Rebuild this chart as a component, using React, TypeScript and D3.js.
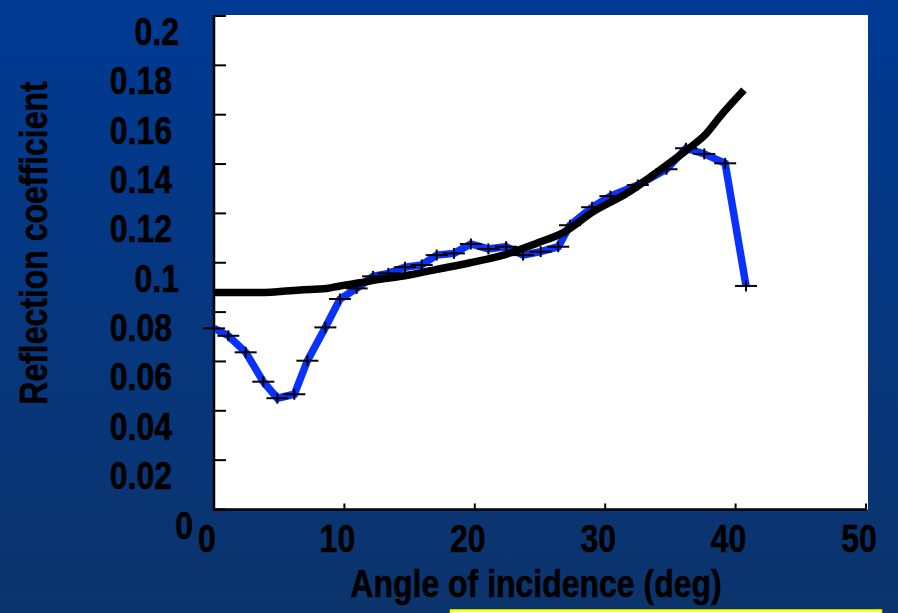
import React from "react";
import * as d3 from "d3";

// Measured reflection coefficient (blue, with markers)
const measuredAngles = [0, 1.1, 2.43, 3.78, 4.86, 6.16, 7.16, 8.54, 9.66, 10.94, 12.2, 13.37, 14.65, 15.93, 17.08, 18.4, 19.7, 21.04, 22.4, 23.7, 25.05, 26.4, 27.3, 29.0, 30.4, 32.5, 34.7, 36.2, 37.6, 39.2, 40.8];
const measuredValues = [0.0734, 0.0704, 0.0637, 0.0518, 0.0451, 0.0467, 0.0603, 0.0738, 0.0853, 0.0896, 0.0945, 0.0957, 0.0982, 0.0991, 0.1031, 0.1038, 0.1076, 0.1056, 0.1065, 0.1031, 0.1045, 0.1065, 0.1152, 0.1225, 0.127, 0.1315, 0.1379, 0.1464, 0.1441, 0.1403, 0.0906];

// Model reflection coefficient (black curve)
const modelAngles = [0, 3.53, 6.6, 8.64, 9.66, 11.2, 12.73, 14.52, 17.08, 19.63, 22.19, 24.75, 26.79, 29.09, 31.65, 34.2, 36.25, 37.78, 38.8, 40.64];
const modelValues = [0.0879, 0.0879, 0.089, 0.0896, 0.0906, 0.0919, 0.0933, 0.0946, 0.0973, 0.1, 0.1031, 0.1079, 0.1122, 0.1207, 0.1281, 0.1376, 0.1457, 0.1525, 0.1592, 0.17];

const xTicks = [0, 10, 20, 30, 40, 50];
const xTickLabels = ["0", "10", "20", "30", "40", "50"];
const yTicks = [0, 0.02, 0.04, 0.06, 0.08, 0.1, 0.12, 0.14, 0.16, 0.18, 0.2];
const yTickLabels = ["0", "0.02", "0.04", "0.06", "0.08", "0.1", "0.12", "0.14", "0.16", "0.18", "0.2"];

const W = 898;
const H = 613;
const plot = { left: 214, right: 866, top: 16, bottom: 509.5 };
const FONT = "'Liberation Sans', Arial, Helvetica, sans-serif";
const SQUEEZE = 0.82; // condensed lettering

type LabelProps = {
  x: number;
  y: number;
  anchor: "start" | "middle" | "end";
  rotate?: number;
  children: React.ReactNode;
};

function Label({ x, y, anchor, rotate = 0, children }: LabelProps) {
  return (
    <text
      transform={`translate(${x},${y}) rotate(${rotate}) scale(${SQUEEZE},1)`}
      textAnchor={anchor}
      fontFamily={FONT}
      fontWeight="bold"
      fontSize={39}
      fill="#000"
      stroke="#000"
      strokeWidth={0.6}
    >
      {children}
    </text>
  );
}

export default function App() {
  const x = d3.scaleLinear().domain([0, 50]).range([plot.left, plot.right]);
  const y = d3.scaleLinear().domain([0, 0.2]).range([plot.bottom, plot.top]);

  const measured = measuredAngles.map((a, i) => [a, measuredValues[i]] as [number, number]);
  const model = modelAngles.map((a, i) => [a, modelValues[i]] as [number, number]);

  const measuredLine = d3
    .line<[number, number]>()
    .x((d) => x(d[0]))
    .y((d) => y(d[1]));
  const modelLine = d3
    .line<[number, number]>()
    .curve(d3.curveMonotoneX)
    .x((d) => x(d[0]))
    .y((d) => y(d[1]));

  return (
    <div style={{ position: "absolute", left: 0, top: 0 }}>
      <svg width={W} height={H} style={{ display: "block" }}>
        <defs>
          <linearGradient id="bg" x1="0" y1="0" x2="0" y2="1">
            <stop offset="0" stopColor="#003a93" />
            <stop offset="1" stopColor="#0c346c" />
          </linearGradient>
        </defs>
        <rect x={0} y={0} width={W} height={H} fill="url(#bg)" />

        {/* plot panel */}
        <rect x={plot.left} y={plot.top - 1} width={plot.right - plot.left + 2} height={plot.bottom - plot.top + 1} fill="#ffffff" />

        {/* y ticks (inward) */}
        {yTicks.map((t) => (
          <line key={"yt" + t} x1={plot.left} x2={plot.left + 12} y1={y(t)} y2={y(t)} stroke="#000" strokeWidth={2} />
        ))}
        {/* x ticks (inward) */}
        {xTicks.map((t) => (
          <line key={"xt" + t} x1={x(t)} x2={x(t)} y1={plot.bottom} y2={plot.bottom - 6} stroke="#000" strokeWidth={2} />
        ))}

        {/* axes */}
        <line x1={plot.left} x2={plot.left} y1={plot.top - 1} y2={plot.bottom + 1} stroke="#000" strokeWidth={2.5} />
        <line x1={plot.left - 1} x2={plot.right + 1} y1={plot.bottom} y2={plot.bottom} stroke="#000" strokeWidth={2.5} />

        {/* measured curve */}
        <path d={measuredLine(measured) || ""} fill="none" stroke="#0a32ff" strokeWidth={7.5} strokeLinejoin="miter" />

        {/* model curve */}
        <path d={modelLine(model) || ""} fill="none" stroke="#000" strokeWidth={7.5} strokeLinejoin="round" />

        {/* measured markers */}
        {measured.map((d, i) => (
          <g key={"m" + i} stroke="#000" strokeWidth={2}>
            <line x1={x(d[0]) - 11} x2={x(d[0]) + 11} y1={y(d[1])} y2={y(d[1])} />
            <line x1={x(d[0])} x2={x(d[0])} y1={y(d[1]) - 5.5} y2={y(d[1]) + 5.5} />
          </g>
        ))}

        {/* y tick labels */}
        {yTicks.map((t, i) => {
          const lbl = yTickLabels[i];
          return (
            <Label key={"yl" + t} x={172 + 7 * (4 - lbl.length)} y={y(t) + 29} anchor="end">
              {lbl}
            </Label>
          );
        })}

        {/* x tick labels */}
        {xTicks.map((t, i) => (
          <Label key={"xl" + t} x={x(t) - 7} y={552} anchor="middle">
            {xTickLabels[i]}
          </Label>
        ))}

        {/* axis titles */}
        <Label x={536} y={597} anchor="middle">
          Angle of incidence (deg)
        </Label>
        <Label x={47} y={243} anchor="middle" rotate={-90}>
          Reflection coefficient
        </Label>

        {/* caption box at the bottom edge */}
        <rect x={451} y={610.5} width={430} height={10} fill="#ffffff" stroke="#ffff00" strokeWidth={2.5} />
      </svg>
    </div>
  );
}
